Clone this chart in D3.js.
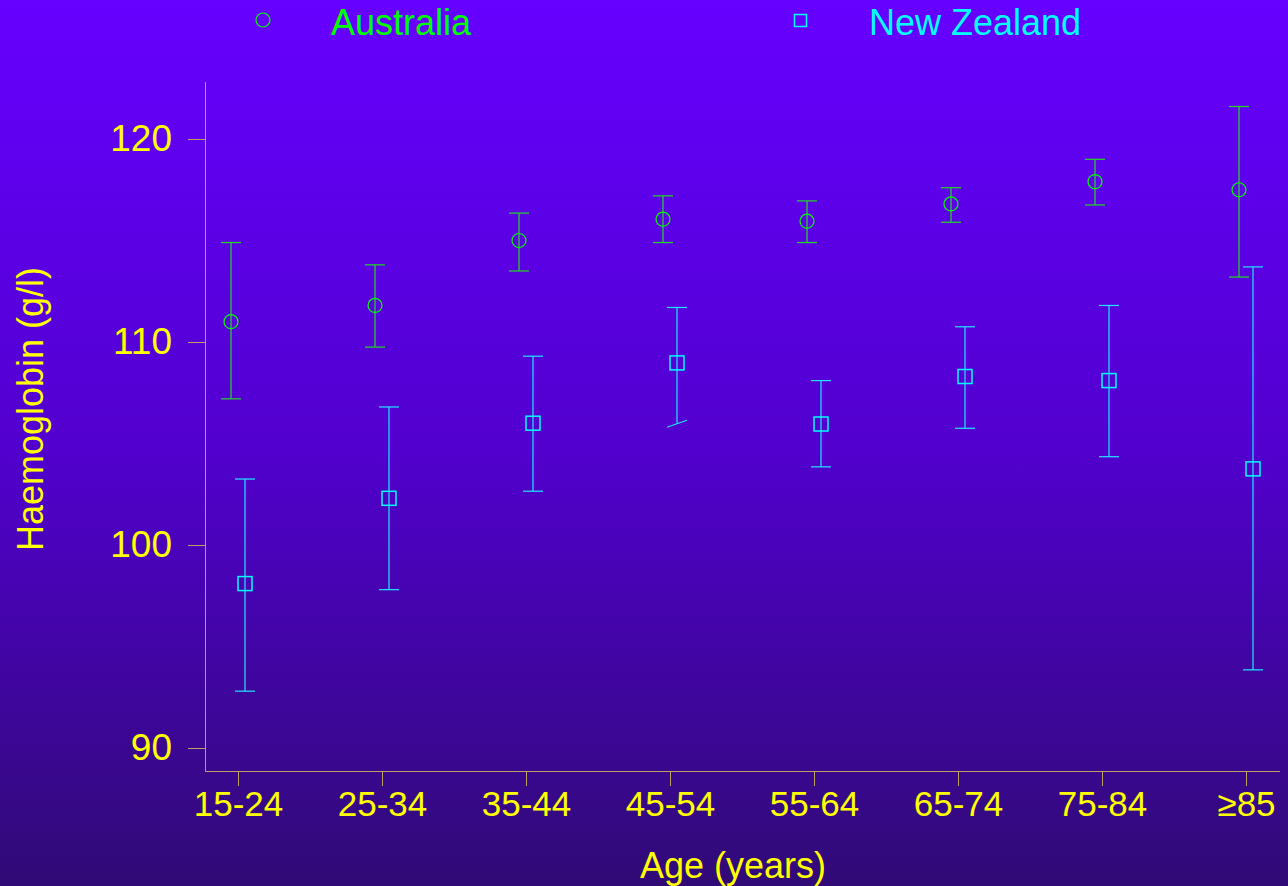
<!DOCTYPE html>
<html>
<head>
<meta charset="utf-8">
<script src="https://cdn.jsdelivr.net/npm/d3@7"></script>
<style>
  body { margin: 0; padding: 0; }
  text { font-family: "Liberation Sans", Arial, sans-serif; }
</style>
</head>
<body>
<script>
var ages = ["15-24", "25-34", "35-44", "45-54", "55-64", "65-74", "75-84", "\u226585"];
var yTicks = [90, 100, 110, 120];

// Australia: mean, lower, upper
var ausMean = [111.0, 111.8, 115.0, 116.05, 115.95, 116.8, 117.9, 117.5];
var ausLow  = [107.2, 109.75, 113.5, 114.9, 114.9, 115.9, 116.75, 113.2];
var ausHigh = [114.9, 113.8, 116.35, 117.2, 116.95, 117.6, 119.0, 121.6];

// New Zealand: mean, lower, upper
var nzMean = [98.1, 102.3, 106.0, 108.97, 105.96, 108.3, 108.1, 103.75];
var nzLow  = [92.8, 97.8, 102.65, 106.0, 103.85, 105.75, 104.35, 93.85];
var nzHigh = [103.25, 106.8, 109.3, 111.7, 108.1, 110.75, 111.8, 113.7];

var W = 1288, H = 886;
var svg = d3.select("body")
    .append("svg")
    .attr("width", W)
    .attr("height", H)
    .style("display", "block");

var defs = svg.append("defs");
var grad = defs.append("linearGradient")
    .attr("id", "bg")
    .attr("x1", 0).attr("y1", 0).attr("x2", 0).attr("y2", 1);
grad.append("stop").attr("offset", "0%").attr("stop-color", "#6600ff");
grad.append("stop").attr("offset", "50%").attr("stop-color", "#5200cf");
grad.append("stop").attr("offset", "100%").attr("stop-color", "#300a76");

svg.append("rect")
    .attr("width", W)
    .attr("height", H)
    .attr("fill", "url(#bg)");

var x = d3.scalePoint()
    .domain(ages)
    .range([238, 1246]);

var y = d3.scaleLinear()
    .domain([90, 120])
    .range([748, 139]);

var axisCol = "#c0a060";
var yellow = "#ffff00";

// axis lines
svg.append("line")
    .attr("x1", 205.5).attr("x2", 205.5)
    .attr("y1", 82).attr("y2", 771.5)
    .attr("stroke", axisCol);
svg.append("line")
    .attr("x1", 205).attr("x2", 1280)
    .attr("y1", 771.5).attr("y2", 771.5)
    .attr("stroke", axisCol);

var yAxis = d3.axisLeft(y)
    .tickValues(yTicks)
    .tickSize(17)
    .tickPadding(16);

var gy = svg.append("g")
    .attr("transform", "translate(205,0)")
    .call(yAxis);
gy.select(".domain").remove();
gy.selectAll("line").attr("stroke", axisCol);
gy.selectAll("text")
    .attr("fill", yellow)
    .style("font-size", "37px")
    .style("font-family", "Liberation Sans, Arial, sans-serif");

var xAxis = d3.axisBottom(x)
    .tickSize(15)
    .tickPadding(5);

var gx = svg.append("g")
    .attr("transform", "translate(0,771)")
    .call(xAxis);
gx.select(".domain").remove();
gx.selectAll("line").attr("stroke", axisCol);
gx.selectAll("text")
    .attr("fill", yellow)
    .style("font-size", "35px")
    .style("font-family", "Liberation Sans, Arial, sans-serif");

// axis titles
svg.append("text")
    .attr("x", 733)
    .attr("y", 878)
    .attr("text-anchor", "middle")
    .attr("fill", yellow)
    .style("font-size", "36px")
    .text("Age (years)");

svg.append("text")
    .attr("transform", "translate(43,409) rotate(-90)")
    .attr("text-anchor", "middle")
    .attr("fill", yellow)
    .style("font-size", "36px")
    .text("Haemoglobin (g/l)");

// series
var series = [
    {name: "Australia", mean: ausMean, low: ausLow, high: ausHigh, color: "#00ff00", bar: "#20dd20", dx: -7, shape: "circle"},
    {name: "New Zealand", mean: nzMean, low: nzLow, high: nzHigh, color: "#00ffff", bar: "#20e8ff", dx: 7, shape: "square"}
];

var capW = 10;

series.forEach(function (s) {
    var g = svg.append("g");
    var rows = ages.map(function (a, i) {
        return {age: a, mean: s.mean[i], low: s.low[i], high: s.high[i]};
    });

    g.selectAll(".stem")
        .data(rows)
        .enter()
        .append("line")
        .attr("x1", function (d) { return x(d.age) + s.dx; })
        .attr("x2", function (d) { return x(d.age) + s.dx; })
        .attr("y1", function (d) { return y(d.high); })
        .attr("y2", function (d) { return y(d.low); })
        .attr("stroke", s.bar)
        .attr("stroke-width", 1.2);

    g.selectAll(".capHi")
        .data(rows)
        .enter()
        .append("line")
        .attr("x1", function (d) { return x(d.age) + s.dx - capW; })
        .attr("x2", function (d) { return x(d.age) + s.dx + capW; })
        .attr("y1", function (d) { return y(d.high); })
        .attr("y2", function (d) { return y(d.high); })
        .attr("stroke", s.bar)
        .attr("stroke-width", 1.2);

    g.selectAll(".capLo")
        .data(rows)
        .enter()
        .append("line")
        .attr("x1", function (d) { return x(d.age) + s.dx - capW; })
        .attr("x2", function (d) { return x(d.age) + s.dx + capW; })
        // the 45-54 NZ lower cap is drawn skewed in the original
        .attr("y1", function (d) { return y(d.low) + (s.shape === "square" && d.age === "45-54" ? 4 : 0); })
        .attr("y2", function (d) { return y(d.low) - (s.shape === "square" && d.age === "45-54" ? 3 : 0); })
        .attr("stroke", s.bar)
        .attr("stroke-width", 1.2);

    if (s.shape === "circle") {
        g.selectAll(".pt")
            .data(rows)
            .enter()
            .append("circle")
            .attr("cx", function (d) { return x(d.age) + s.dx; })
            .attr("cy", function (d) { return y(d.mean); })
            .attr("r", 7)
            .attr("fill", "none")
            .attr("stroke", s.color)
            .attr("stroke-width", 1.2);
    } else {
        g.selectAll(".pt")
            .data(rows)
            .enter()
            .append("rect")
            .attr("x", function (d) { return x(d.age) + s.dx - 7; })
            .attr("y", function (d) { return y(d.mean) - 7; })
            .attr("width", 14)
            .attr("height", 14)
            .attr("fill", "none")
            .attr("stroke", s.color)
            .attr("stroke-width", 1.5);
    }
});

// legend
svg.append("circle")
    .attr("cx", 263).attr("cy", 20).attr("r", 7)
    .attr("fill", "none").attr("stroke", "#00ff00").attr("stroke-width", 1.2);
svg.append("text")
    .attr("x", 331).attr("y", 35)
    .attr("fill", "#00ff00")
    .style("font-size", "36px")
    .text("Australia");

svg.append("rect")
    .attr("x", 794.5).attr("y", 14.5).attr("width", 12).attr("height", 12)
    .attr("fill", "none").attr("stroke", "#00ffff").attr("stroke-width", 1.5);
svg.append("text")
    .attr("x", 869).attr("y", 35)
    .attr("fill", "#00ffff")
    .style("font-size", "36px")
    .text("New Zealand");
</script>
</body>
</html>
